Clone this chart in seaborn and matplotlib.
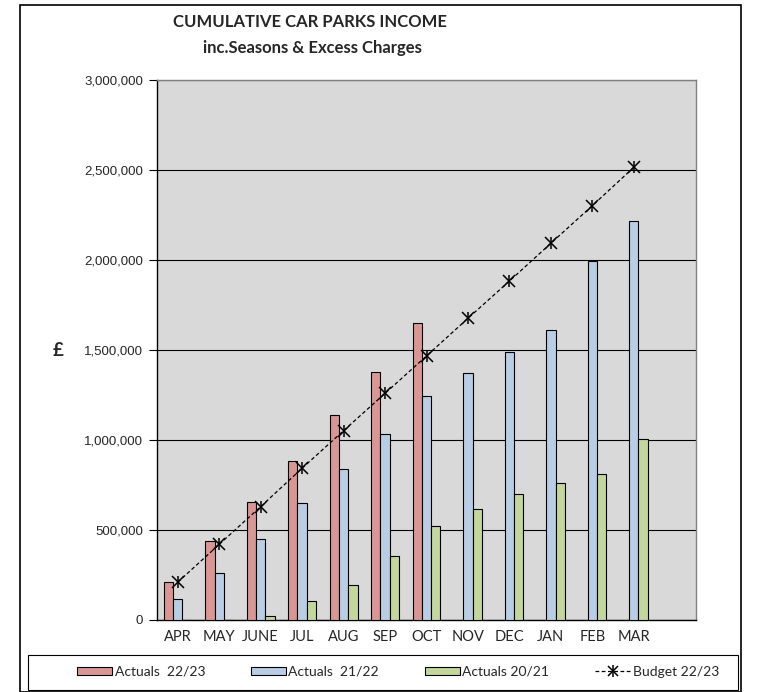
import numpy as np
import pandas as pd
import matplotlib
matplotlib.use("Agg")
import matplotlib.pyplot as plt
from matplotlib.patches import Rectangle, Patch
from matplotlib.lines import Line2D
from matplotlib.legend_handler import HandlerTuple
import seaborn as sns

months = ["APR", "MAY", "JUNE", "JUL", "AUG", "SEP", "OCT", "NOV", "DEC", "JAN", "FEB", "MAR"]
actuals_2223 = [210000, 437000, 654000, 883000, 1139000, 1378000, 1648000,
                np.nan, np.nan, np.nan, np.nan, np.nan]
actuals_2122 = [117000, 259000, 450000, 648000, 839000, 1035000, 1244000,
                1370000, 1487000, 1609000, 1994000, 2215000]
actuals_2021 = [1500, 2500, 20000, 105000, 193000, 356000, 520000,
                615000, 700000, 761000, 811000, 1004000]
budget_2223 = [210000, 420000, 630000, 843000, 1052000, 1259000, 1467000,
               1676000, 1883000, 2093000, 2302000, 2515000]
series_names = ["Actuals  22/23", "Actuals  21/22", "Actuals 20/21"]
budget_name = "Budget 22/23"
colors = ["#D99694", "#B9CDE5", "#C3D69B"]

rows = []
for name, vals in zip(series_names, [actuals_2223, actuals_2122, actuals_2021]):
    for m, v in zip(months, vals):
        rows.append({"month": m, "series": name, "value": v})
df = pd.DataFrame(rows)

sns.set_style("white")
W, H = 761, 692
fig = plt.figure(figsize=(W / 100, H / 100), dpi=100)
ax = fig.add_axes([157 / W, 1 - 620 / H, (696 - 157) / W, (620 - 80) / H])
ax.set_facecolor("#D9D9D9")

sns.barplot(data=df, x="month", y="value", hue="series", order=months,
            hue_order=series_names, palette=colors, width=0.675, gap=0,
            errorbar=None, edgecolor="black", linewidth=0.8, saturation=1,
            legend=False, ax=ax, zorder=3)

xs = np.arange(len(months))
ax.plot(xs, budget_2223, color="black", linestyle=(0, (3, 2)),
        linewidth=0.9, marker="x", markersize=8, markeredgewidth=1.1, zorder=4)
ax.plot(xs, budget_2223, color="black", linestyle="none",
        marker="|", markersize=9, markeredgewidth=1.1, zorder=4)

ax.set_xlim(-0.5, 12.5)
ax.set_ylim(0, 3000000)
ax.set_yticks(np.arange(0, 3000001, 500000))
ax.set_yticklabels([f"{int(v):,}" for v in np.arange(0, 3000001, 500000)],
                   fontsize=9.5, family="Liberation Sans")
ax.yaxis.grid(True, color="black", linewidth=0.8, zorder=1)
ax.set_axisbelow(True)
ax.set_xticks(xs)
ax.set_xticklabels(months, fontsize=10.5, family="Lato")
ax.set_xticks(np.arange(-0.5, 13, 1), minor=True)
ax.tick_params(axis="x", which="major", length=0, pad=7)
ax.tick_params(axis="x", which="minor", length=6, width=0.8, color="black", direction="out")
ax.tick_params(axis="y", length=6, width=0.8, color="black", direction="out", pad=4, left=True)
ax.set_xlabel("")
ax.set_ylabel("")
for s in ["left", "bottom"]:
    ax.spines[s].set_color("black")
    ax.spines[s].set_linewidth(1.0)
for s in ["top", "right"]:
    ax.spines[s].set_color("#808080")
    ax.spines[s].set_linewidth(1.0)

fig.text(58 / W, 1 - 350 / H, "£", fontsize=13.5, fontweight="bold", family="Lato",
         ha="center", va="center")
fig.text(310 / W, 1 - 22 / H, "CUMULATIVE CAR PARKS INCOME", fontsize=12,
         fontweight="bold", family="Lato", ha="center", va="center")
fig.text(312 / W, 1 - 48 / H, "inc.Seasons & Excess Charges", fontsize=12,
         fontweight="bold", family="Lato", ha="center", va="center")

handles = [Patch(facecolor=c, edgecolor="black", linewidth=0.8) for c in colors]
bud_x = Line2D([0], [0], color="black", linestyle=(0, (3, 2)), linewidth=0.9,
               marker="x", markersize=7, markeredgewidth=1.1)
bud_v = Line2D([0], [0], color="black", linestyle="none",
               marker="|", markersize=8, markeredgewidth=1.1)
handles.append((bud_x, bud_v))
labels = series_names + [budget_name]
leg = fig.legend(handles, labels, ncol=4, loc="center",
                 bbox_to_anchor=(398 / W, 1 - 672 / H),
                 frameon=False, prop={"family": "Lato", "size": 10},
                 handlelength=2.5, handleheight=0.55, handletextpad=0.2,
                 columnspacing=3.3,
                 handler_map={tuple: HandlerTuple(ndivide=1, pad=0)})

fig.add_artist(Rectangle((28 / W, 1 - 690 / H), (738 - 28) / W, (690 - 655) / H,
                         transform=fig.transFigure, fill=False, edgecolor="black",
                         linewidth=0.8))
fig.add_artist(Rectangle((20 / W, 0.0), (741 - 20) / W, (687) / H,
                         transform=fig.transFigure, fill=False, edgecolor="black",
                         linewidth=1.2))

fig.savefig("out.png", dpi=100)
